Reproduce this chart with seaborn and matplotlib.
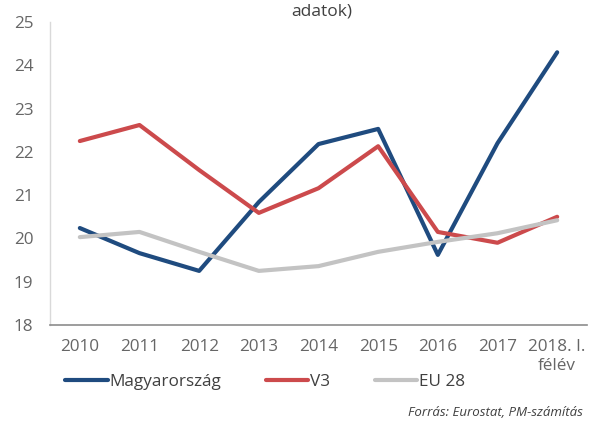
import matplotlib
matplotlib.use("Agg")
import matplotlib.pyplot as plt
import seaborn as sns
import pandas as pd
from matplotlib.lines import Line2D

years = ["2010", "2011", "2012", "2013", "2014", "2015", "2016", "2017", "2018. I.\nfélév"]
magyarorszag = [20.24, 19.66, 19.25, 20.84, 22.18, 22.53, 19.62, 22.2, 24.3]
v3 = [22.25, 22.62, 21.58, 20.59, 21.16, 22.13, 20.15, 19.9, 20.5]
eu28 = [20.03, 20.15, 19.69, 19.25, 19.36, 19.69, 19.92, 20.12, 20.42]
series_names = ["Magyarország", "V3", "EU 28"]
colors = ["#1f4b7f", "#cc4a4c", "#c3c3c3"]

rows = []
for name, vals in zip(series_names, [magyarorszag, v3, eu28]):
    for i, (y, v) in enumerate(zip(years, vals)):
        rows.append({"pos": i, "year": y, "value": v, "series": name})
df = pd.DataFrame(rows)

sns.set_style("white")
plt.rcParams["font.family"] = ["Open Sans", "DejaVu Sans"]

fig = plt.figure(figsize=(5.89, 4.24), dpi=100)
ax = fig.add_axes([50 / 589, 99 / 424, 537 / 589, 303 / 424])

sns.lineplot(data=df, x="pos", y="value", hue="series", hue_order=series_names,
             palette=colors, linewidth=3.0, ax=ax, legend=False, sort=False)

ax.set_xlim(-0.5, len(years) - 0.5)
ax.set_ylim(18, 25)
ax.set_xticks(range(len(years)))
ax.set_xticklabels(years, fontsize=12.3, color="#666666", linespacing=1.25)
ax.set_yticks(range(18, 26))
ax.set_yticklabels([str(v) for v in range(18, 26)], fontsize=12.3, color="#666666")
ax.tick_params(axis="x", length=0, pad=10)
ax.tick_params(axis="y", length=0, pad=12)
ax.set_xlabel("")
ax.set_ylabel("")
for s in ["top", "right"]:
    ax.spines[s].set_visible(False)
ax.spines["left"].set_color("#d9d9d9")
ax.spines["left"].set_linewidth(1.0)
ax.spines["bottom"].set_color("#8c8c8c")
ax.spines["bottom"].set_linewidth(1.2)

handles = [Line2D([0], [0], color=c, lw=3.0) for c in colors]
fig.legend(handles, series_names, loc="center", bbox_to_anchor=(265 / 589, 42 / 424), ncol=3,
           frameon=False, fontsize=12.3, handlelength=2.5, handletextpad=0.1,
           columnspacing=2.6, labelcolor="#404040", borderpad=0)

fig.text(322 / 589, 1 - 12 / 424, "adatok)", ha="center", va="center",
         fontsize=12.5, color="#404040")
fig.text(583 / 589, 1 - 412 / 424, "Forrás: Eurostat, PM-számítás", ha="right",
         va="center", fontsize=9.5, style="italic", color="#404040")

fig.savefig("out.png", dpi=100)
